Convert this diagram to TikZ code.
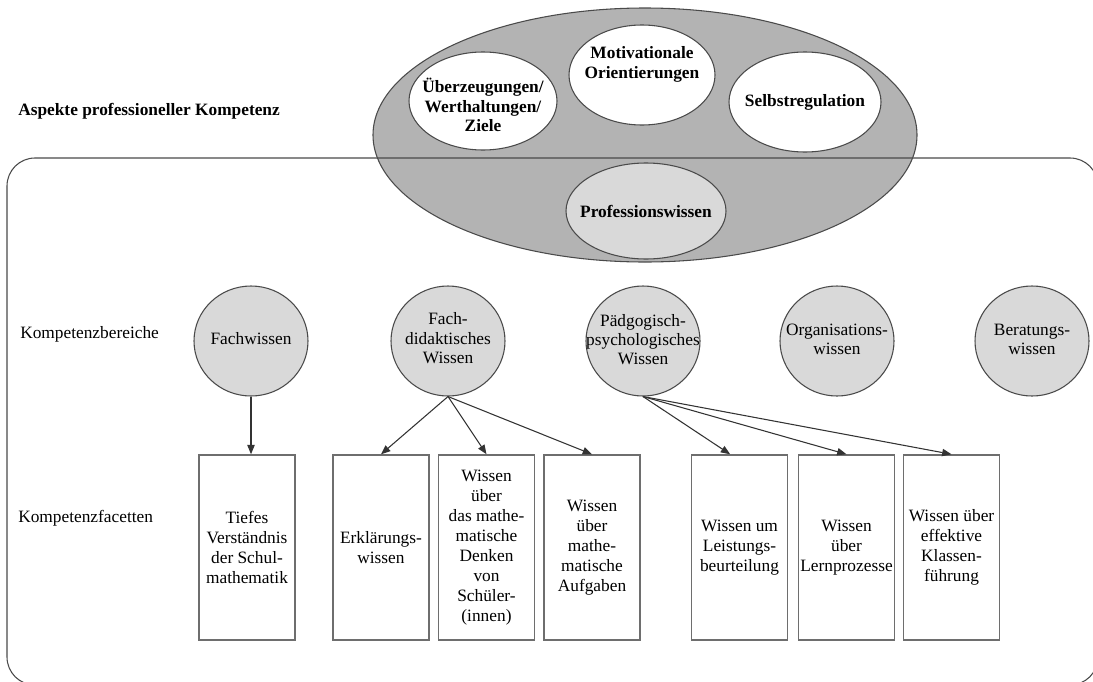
\documentclass[tikz,border=0pt]{standalone}
\usepackage{fontspec}
\setmainfont{Liberation Serif}
\usetikzlibrary{shapes.geometric,arrows.meta}
\definecolor{edge}{HTML}{4A4A4A}
\definecolor{boxedge}{HTML}{6E6E6E}
\definecolor{biggray}{HTML}{B3B3B3}
\definecolor{ltgray}{HTML}{D9D9D9}
\definecolor{arrclr}{HTML}{333333}
\begin{document}
\begin{tikzpicture}[x=0.75pt,y=-0.75pt,
  txt/.style={font=\fontsize{13}{14.5}\selectfont},
  lbl/.style={txt, align=center, inner sep=0pt},
  blbl/.style={lbl, font=\fontsize{13}{14.5}\selectfont\bfseries},
  bigell/.style={ellipse, draw=edge, fill=biggray, line width=0.8pt, inner sep=0pt,
     minimum width=408pt, minimum height=190.5pt},
  topell/.style={ellipse, draw=edge, fill=white, line width=0.8pt, inner sep=0pt},
  kb/.style={ellipse, draw=edge, fill=ltgray, line width=0.8pt, inner sep=0pt,
     minimum width=85.5pt, minimum height=82.5pt},
  facette/.style={rectangle, draw=boxedge, line width=1.1pt, inner sep=0pt,
     minimum width=72pt, minimum height=138.75pt, align=center,
     font=\fontsize{13}{15}\selectfont},
  arr/.style={-{Triangle[length=7pt,width=5.5pt]}, draw=arrclr, line width=0.8pt},
  frame/.style={draw=edge, line width=0.8pt, rounded corners=21pt}
]
\useasboundingbox (0,0) rectangle (1093,682);
\clip (0,0) rectangle (1093,682);

% big ellipse
\node[bigell] (aspekte) at (645,135) {};
% frame
\draw[frame] (7,158) rectangle (1098,685);

% top ellipses
\node[topell, minimum width=111pt, minimum height=73.5pt,
  label={[blbl,yshift=-3pt]center:{Überzeugungen/\\Werthaltungen/\\Ziele}}] (ueb) at (483,101) {};
\node[topell, minimum width=109.5pt, minimum height=75pt,
  label={[blbl,yshift=8pt]center:{Motivationale\\Orientierungen}}] (mot) at (642,75) {};
\node[topell, minimum width=114pt, minimum height=75pt,
  label={[blbl]center:{Selbstregulation}}] (selbst) at (805,102) {};
\node[ellipse, draw=edge, fill=ltgray, line width=0.8pt, inner sep=0pt,
  minimum width=120pt, minimum height=72pt,
  label={[blbl]center:{Professionswissen}}] (prof) at (646,211) {};

% left labels
\node[txt, font=\fontsize{13}{14.5}\selectfont\bfseries, anchor=west, inner sep=0pt] (lab1) at (18,111) {Aspekte professioneller Kompetenz};
\node[txt, anchor=west, inner sep=0pt] (lab2) at (20,334) {Kompetenzbereiche};
\node[txt, anchor=west, inner sep=0pt] (lab3) at (18,518) {Kompetenzfacetten};

% Kompetenzbereiche
\node[kb, label={[lbl,yshift=2pt]center:{Fachwissen}}] (fw) at (251,341) {};
\node[kb, label={[lbl,yshift=2pt]center:{Fach-\\didaktisches\\Wissen}}] (fd) at (448,341) {};
\node[kb, label={[lbl,yshift=1pt]center:{Pädgogisch-\\psychologisches\\Wissen}}] (pp) at (643,341) {};
\node[kb, label={[lbl,yshift=1pt]center:{Organisations-\\wissen}}] (org) at (837,341) {};
\node[kb, label={[lbl,yshift=1pt]center:{Beratungs-\\wissen}}] (ber) at (1032,341) {};

% Kompetenzfacetten
\node[facette] (f1) at (247,547.5) {Tiefes\\Verständnis\\der Schul-\\mathematik};
\node[facette] (f2) at (381,547.5) {Erklärungs-\\wissen};
\node[facette] (f3) at (486.5,547.5) {Wissen\\über\\das mathe-\\matische\\Denken\\von\\Schüler-\\(innen)};
\node[facette] (f4) at (592,547.5) {Wissen\\über\\mathe-\\matische\\Aufgaben};
\node[facette] (f5) at (739.5,547.5) {Wissen um\\Leistungs-\\beurteilung};
\node[facette] (f6) at (846.5,547.5) {Wissen\\über\\Lernprozesse};
\node[facette] (f7) at (951.5,547.5) {Wissen über\\effektive\\Klassen-\\führung};

% arrows
\draw[arr] (fw.south) -- (fw.south |- f1.north);
\draw[arr] (fd.south) -- (f2.north);
\draw[arr] (fd.south) -- (f3.north);
\draw[arr] (fd.south) -- (f4.north);
\draw[arr] (pp.south) -- ([xshift=-7pt]f5.north);
\draw[arr] (pp.south) -- (f6.north);
\draw[arr] (pp.south) -- (f7.north);
\end{tikzpicture}
\end{document}
